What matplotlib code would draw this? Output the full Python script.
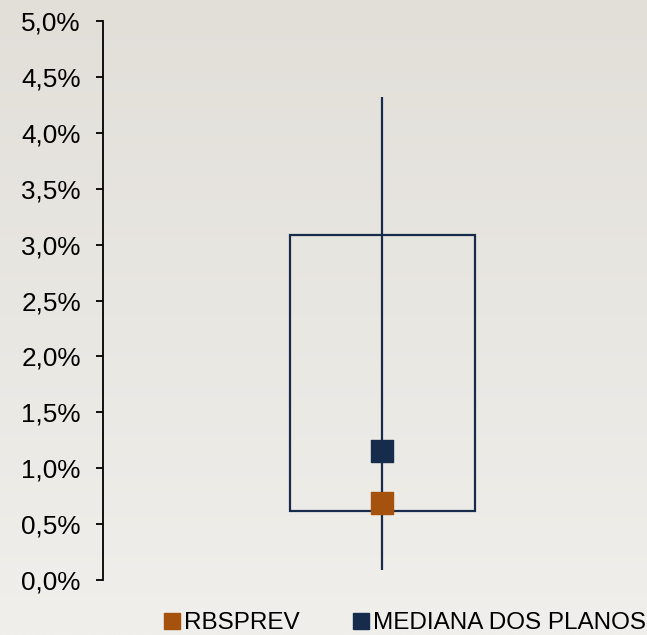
import matplotlib.pyplot as plt
import numpy as np
from matplotlib.lines import Line2D

plt.rcParams['font.family'] = ['Liberation Sans', 'DejaVu Sans']

# values in %
box_low = 0.62
box_high = 3.09
whisker_low = 0.09
whisker_high = 4.32
rbsprev = 0.69
mediana = 1.15
yticks = np.arange(0, 5.01, 0.5)
legend_labels = ["RBSPREV", "MEDIANA DOS PLANOS"]

navy = '#172c4c'
orange = '#a5520e'

fig = plt.figure(figsize=(6.47, 6.35), dpi=100)

# soft gray gradient background
bg = fig.add_axes([0, 0, 1, 1], zorder=-10)
grad = np.linspace(0, 1, 256).reshape(-1, 1)
bg.imshow(grad, aspect='auto', cmap=plt.matplotlib.colors.LinearSegmentedColormap.from_list(
    'bg', ['#e2dfd9', '#f0efeb']), extent=[0, 1, 0, 1], origin='upper')
bg.axis('off')

ax = fig.add_axes([103 / 647, 1 - 580 / 635, 540 / 647, 559 / 635])
ax.patch.set_alpha(0)
xc = 0.517
ax.bar(xc, box_high - box_low, bottom=box_low, width=0.343, fill=False,
       edgecolor=navy, linewidth=1.6)
ax.vlines(xc, whisker_low, whisker_high, color=navy, linewidth=1.6)
ax.scatter([xc], [mediana], marker='s', s=250, color=navy, zorder=3)
ax.scatter([xc], [rbsprev], marker='s', s=250, color=orange, zorder=3)

ax.set_xlim(0, 1)
ax.set_ylim(0, 5)
ax.set_yticks(yticks)
ax.set_yticklabels([f"{v:.1f}%".replace('.', ',') for v in yticks], fontsize=18.8)
ax.tick_params(axis='y', length=5, width=1.3, pad=11, colors='black')
ax.set_xticks([])
for s in ['top', 'right', 'bottom']:
    ax.spines[s].set_visible(False)
ax.spines['left'].set_linewidth(1.3)

handles = [Line2D([], [], marker='s', linestyle='', color=orange, markersize=11),
           Line2D([], [], marker='s', linestyle='', color=navy, markersize=11)]
fig.legend(handles, legend_labels, loc='center', bbox_to_anchor=(403 / 647, 1 - 623 / 635),
           ncol=2, frameon=False, fontsize=17.5, handletextpad=0.0, columnspacing=2.0,
           handlelength=1.0, borderaxespad=0, borderpad=0)

fig.savefig('out.png', dpi=100)
